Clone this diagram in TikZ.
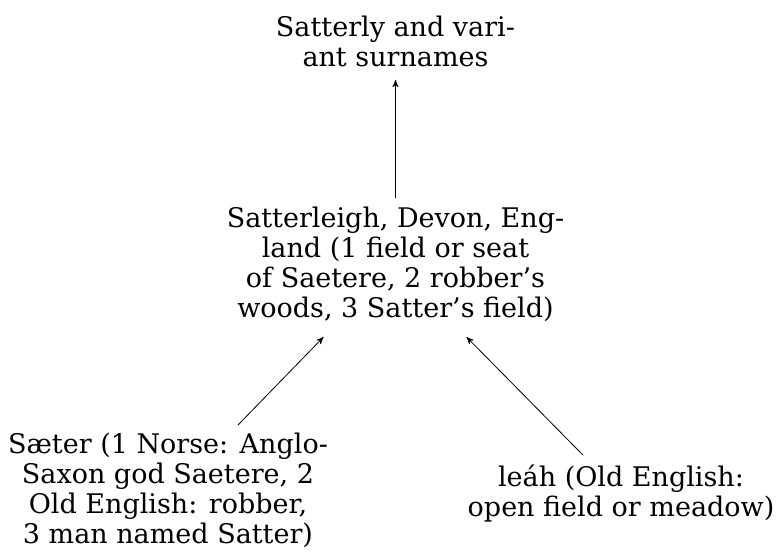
\documentclass[tikz,border=0pt]{standalone}
\usepackage{fontspec}
\setmainfont{DejaVu Serif}
\usetikzlibrary{arrows}
\tikzset{
    word/.style = {rectangle,
                   draw=none,
                   text=black,
                   align=center,
                   inner sep=0pt,
                   font=\fontsize{13.5pt}{15pt}\selectfont},
    -,
    >=stealth',
    line width=0.4pt}

\begin{document}
\begin{tikzpicture}[x=0.5pt,y=-0.5pt]
    \useasboundingbox (0,0) rectangle (779,553);
    \node[word] (S) at (395.5,41.75) {Satterly and vari-\\ant surnames};
    \node[word] (P) at (395.5,264.5) {Satterleigh, Devon, Eng-\\land (1 field or seat\\of Saetere, 2 robber’s\\woods, 3 Satter’s field)};
    \node[word] (A) at (168,490.5)   {Sæter (1 Norse: Anglo-\\Saxon god Saetere, 2\\Old English: robber,\\3 man named Satter)};
    \node[word] (B) at (621,493.7)   {leáh (Old English:\\open field or meadow)};

    \path [->]  ([yshift=33.25pt]P.center)                edge ([yshift=-19.1pt]S.center)
                ([xshift=35pt,yshift=32.75pt]A.center)    edge ([xshift=-36pt,yshift=-36.25pt]P.center)
                ([xshift=-19pt,yshift=19.3pt]B.center)    edge ([xshift=35.5pt,yshift=-36.25pt]P.center);
\end{tikzpicture}
\end{document}
